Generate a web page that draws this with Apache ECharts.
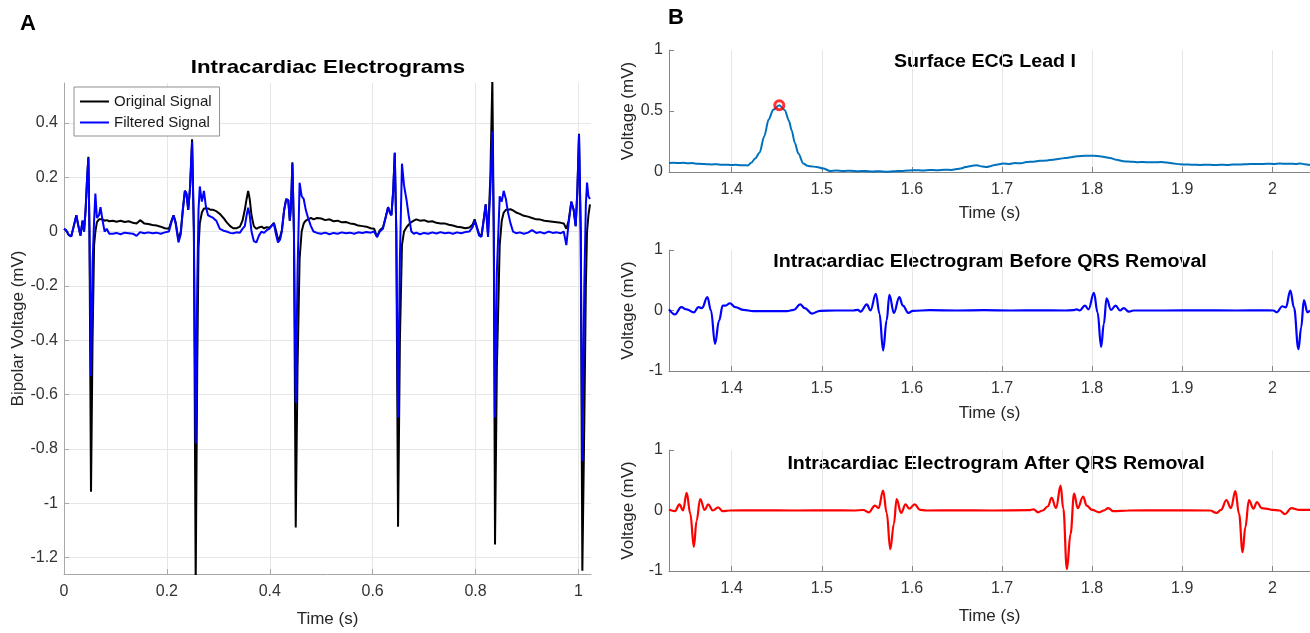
<!DOCTYPE html>
<html><head><meta charset="utf-8">
<script src="https://cdn.jsdelivr.net/npm/echarts@6.0.0/dist/echarts.min.js"></script>
<style>html,body{margin:0;padding:0;background:#fff}#c{width:1310px;height:633px}</style>
</head><body><div id="c"></div>
<script>
// ---------- Panel A: intracardiac electrograms ----------
const leftTime = [
  0.000, 0.004, 0.009, 0.014, 0.019, 0.024, 0.028, 0.032, 0.036, 0.039, 0.042, 0.045, 0.0474, 0.0495, 0.0525, 0.0555, 0.0585, 0.061, 0.064, 0.068, 0.071, 0.075, 0.079, 0.083, 0.088,
  0.095, 0.102, 0.110, 0.118, 0.126, 0.134, 0.141, 0.148, 0.156, 0.164, 0.172, 0.180, 0.188, 0.196, 0.204,
  0.209, 0.213, 0.217, 0.2225, 0.227, 0.231, 0.235, 0.238, 0.2415, 0.245, 0.249, 0.2525, 0.256, 0.259, 0.2615, 0.264, 0.268, 0.272, 0.276, 0.280, 0.285, 0.290,
  0.296, 0.303, 0.310, 0.316, 0.323, 0.329, 0.335, 0.342, 0.347, 0.3515, 0.355, 0.358, 0.361, 0.3645, 0.369, 0.374, 0.379, 0.384, 0.389, 0.394, 0.399, 0.403, 0.408, 0.412, 0.416, 0.420, 0.4235, 0.428, 0.432, 0.436, 0.439, 0.4415, 0.444, 0.447, 0.4505,
  0.454, 0.458, 0.462, 0.466, 0.470, 0.4745, 0.480, 0.485, 0.492, 0.500, 0.508, 0.516, 0.524, 0.532, 0.540, 0.548, 0.556, 0.564, 0.572, 0.580, 0.588, 0.596, 0.603, 0.6085, 0.614, 0.620, 0.625, 0.630, 0.6335, 0.6365, 0.640, 0.643, 0.646, 0.6494,
  0.653, 0.657, 0.661, 0.6656, 0.670, 0.6753, 0.680, 0.685, 0.692, 0.700, 0.708, 0.716, 0.724, 0.732, 0.740, 0.748, 0.756, 0.764, 0.772, 0.780, 0.788, 0.794, 0.7984, 0.803, 0.807, 0.8114, 0.815, 0.8198, 0.8243, 0.8288, 0.8327, 0.8355, 0.8379,
  0.8415, 0.847, 0.851, 0.8548, 0.859, 0.8632, 0.868, 0.8729, 0.879, 0.886, 0.894, 0.902, 0.910, 0.918, 0.926, 0.934, 0.942, 0.950, 0.958, 0.966, 0.9715, 0.9766, 0.981, 0.9863, 0.9908, 0.9947, 0.998, 1.0012, 1.0045, 1.0077,
  1.0115, 1.0145, 1.0168, 1.0195, 1.0225
];
const originalSignal = [
  0.010, 0.005, -0.012, -0.018, 0.020, 0.060, 0.020, -0.015, 0.040, 0.000, 0.080, 0.200, 0.275, 0.000, -0.958, -0.400, -0.050, 0.000, 0.035, 0.045, 0.040, 0.045, 0.040, 0.042, 0.038,
  0.040, 0.036, 0.040, 0.035, 0.038, 0.032, 0.030, 0.042, 0.030, 0.028, 0.024, 0.022, 0.018, 0.012, 0.010,
  0.040, 0.060, 0.035, -0.030, 0.000, 0.080, 0.150, 0.140, 0.080, 0.160, 0.340, 0.000, -1.300, -0.500, -0.060, 0.030, 0.070, 0.085, 0.085, 0.085, 0.080, 0.080,
  0.075, 0.065, 0.050, 0.035, 0.020, 0.012, 0.012, 0.018, 0.040, 0.080, 0.120, 0.150, 0.120, 0.060, 0.020, 0.010, 0.015, 0.018, 0.012, 0.016, 0.014, 0.020, 0.032, 0.005, -0.030, -0.020, 0.005, 0.080, 0.120, 0.115, 0.040, 0.100, 0.255, 0.000, -1.090,
  -0.500, -0.100, 0.000, 0.030, 0.040, 0.045, 0.050, 0.045, 0.050, 0.048, 0.042, 0.045, 0.038, 0.040, 0.034, 0.035, 0.030, 0.028, 0.022, 0.020, 0.018, 0.012, 0.010, -0.020, 0.005, 0.015, 0.050, 0.090, 0.070, 0.060, 0.150, 0.290, 0.000, -1.087,
  -0.400, -0.050, 0.000, 0.015, 0.025, 0.035, 0.040, 0.045, 0.040, 0.042, 0.036, 0.038, 0.032, 0.030, 0.030, 0.025, 0.022, 0.018, 0.016, 0.012, 0.015, 0.025, 0.045, 0.015, -0.010, -0.018, 0.030, 0.100, -0.010, 0.200, 0.560, 0.000, -1.152,
  -0.500, -0.050, 0.040, 0.070, 0.080, 0.080, 0.082, 0.078, 0.070, 0.065, 0.058, 0.055, 0.050, 0.045, 0.044, 0.040, 0.038, 0.036, 0.034, 0.032, 0.030, 0.010, 0.040, 0.110, 0.080, 0.020, 0.150, 0.360, 0.000, -1.249,
  -0.700, -0.200, 0.000, 0.060, 0.100
];
const filteredSignal = [
  0.010, 0.005, -0.012, -0.018, 0.020, 0.060, 0.020, -0.015, 0.040, 0.000, 0.080, 0.200, 0.270, 0.000, -0.533, -0.120, 0.040, 0.140, 0.050, 0.060, 0.090, 0.040, 0.000, 0.010, -0.008,
  -0.008, -0.005, -0.010, -0.004, -0.006, -0.008, -0.016, -0.002, -0.006, -0.003, -0.006, -0.004, -0.008, -0.003, 0.000,
  0.035, 0.060, 0.030, -0.040, -0.010, 0.080, 0.150, 0.140, 0.080, 0.160, 0.330, 0.000, -0.780, -0.200, 0.080, 0.166, 0.110, 0.150, 0.090, 0.060, 0.055, 0.050,
  0.040, 0.010, 0.003, 0.000, -0.005, -0.006, -0.003, -0.004, 0.010, 0.020, 0.060, 0.088, 0.060, 0.000, -0.035, -0.040, -0.015, 0.000, -0.005, 0.005, 0.010, 0.020, 0.030, -0.010, -0.040, -0.030, 0.000, 0.080, 0.120, 0.115, 0.040, 0.100, 0.250, 0.000, -0.630,
  -0.150, 0.180, 0.130, 0.120, 0.080, 0.050, 0.020, 0.000, -0.005, -0.008, -0.004, -0.010, -0.005, -0.008, -0.003, -0.006, -0.004, -0.008, -0.003, -0.005, -0.002, -0.004, 0.000, -0.020, 0.000, 0.010, 0.050, 0.090, 0.070, 0.060, 0.150, 0.290, 0.000, -0.685,
  -0.100, 0.250, 0.170, 0.120, 0.060, 0.000, -0.008, -0.004, -0.010, -0.005, -0.008, -0.003, -0.007, -0.002, -0.006, -0.004, -0.008, -0.003, -0.006, -0.002, 0.000, 0.015, 0.040, 0.010, -0.015, -0.020, 0.030, 0.100, -0.020, 0.150, 0.369, 0.000, -0.685,
  -0.150, 0.130, 0.110, 0.150, 0.120, 0.070, 0.030, 0.000, -0.006, -0.003, -0.008, -0.004, 0.005, -0.005, -0.002, -0.007, 0.000, -0.005, -0.003, -0.006, 0.000, -0.050, 0.030, 0.110, 0.080, 0.020, 0.150, 0.357, 0.000, -0.845,
  -0.200, 0.100, 0.180, 0.130, 0.120
];
const leftXTicks = [0, 0.2, 0.4, 0.6, 0.8, 1];
const leftYTicks = [-1.2, -1, -0.8, -0.6, -0.4, -0.2, 0, 0.2, 0.4];

// ---------- Panel B1: surface ECG lead I ----------
const ecgTime = [
  1.3304, 1.336, 1.341, 1.346, 1.351, 1.356, 1.362, 1.367, 1.372, 1.378, 1.383, 1.389, 1.394, 1.399, 1.404, 1.410, 1.414, 1.418, 1.4215, 1.426, 1.431, 1.436, 1.441, 1.446, 1.4528, 1.459, 1.4635, 1.4665, 1.470, 1.474,
  1.4795, 1.484, 1.487, 1.4944, 1.5018, 1.509, 1.516, 1.524, 1.532, 1.540, 1.548, 1.556, 1.564, 1.572, 1.580, 1.588, 1.596, 1.604, 1.612, 1.620, 1.628, 1.636, 1.644, 1.650, 1.655, 1.659, 1.666, 1.672, 1.678, 1.683,
  1.688, 1.692, 1.7015, 1.708, 1.714, 1.721, 1.7274, 1.735, 1.742, 1.750, 1.757, 1.764, 1.770, 1.776, 1.7829, 1.7925, 1.8014, 1.810, 1.8199, 1.827, 1.8347, 1.840, 1.845, 1.851, 1.857, 1.863, 1.870, 1.876, 1.8828, 1.890,
  1.8976, 1.904, 1.910, 1.920, 1.928, 1.935, 1.942, 1.9494, 1.957, 1.965, 1.972, 1.979, 1.986, 1.994, 2.001, 2.0086, 2.015, 2.020, 2.026, 2.0308, 2.036, 2.0418
];
const ecgVoltage = [
  0.074, 0.076, 0.073, 0.075, 0.071, 0.073, 0.068, 0.066, 0.064, 0.062, 0.064, 0.059, 0.060, 0.057, 0.059, 0.055, 0.056, 0.054, 0.075, 0.110, 0.160, 0.290, 0.430, 0.510, 0.548, 0.507, 0.420, 0.343, 0.240, 0.151,
  0.069, 0.052, 0.047, 0.041, 0.028, 0.009, 0.012, 0.008, 0.011, 0.006, 0.009, 0.004, 0.007, 0.003, 0.006, 0.009, 0.012, 0.015, 0.012, 0.017, 0.014, 0.019, 0.017, 0.024, 0.030, 0.040, 0.050, 0.055, 0.046, 0.041,
  0.050, 0.058, 0.069, 0.066, 0.074, 0.071, 0.082, 0.085, 0.092, 0.094, 0.101, 0.108, 0.115, 0.120, 0.129, 0.133, 0.134, 0.127, 0.115, 0.100, 0.088, 0.086, 0.084, 0.080, 0.082, 0.079, 0.080, 0.081, 0.077, 0.070,
  0.063, 0.061, 0.060, 0.058, 0.060, 0.057, 0.059, 0.058, 0.061, 0.062, 0.064, 0.066, 0.065, 0.068, 0.066, 0.069, 0.067, 0.068, 0.066, 0.069, 0.064, 0.058
];
const ecgPeakTime = [1.4528];
const ecgPeakVoltage = [0.548];

// ---------- Panel B2: electrogram before QRS removal ----------
const beforeTime = [
  1.3304, 1.337, 1.344, 1.350, 1.358, 1.363, 1.367, 1.373, 1.377, 1.3815, 1.386, 1.390, 1.393, 1.398, 1.404, 1.413, 1.424, 1.440, 1.461, 1.469,
  1.476, 1.481, 1.489, 1.498, 1.515, 1.535, 1.540, 1.543, 1.550, 1.554, 1.560, 1.564, 1.568, 1.572, 1.575, 1.580, 1.586, 1.590, 1.596, 1.601,
  1.620, 1.650, 1.680, 1.710, 1.740, 1.770, 1.779, 1.783, 1.786, 1.792, 1.796, 1.802, 1.806, 1.810, 1.813, 1.816, 1.821, 1.826, 1.831, 1.835,
  1.841, 1.846, 1.880, 1.920, 1.960, 1.990, 2.001, 2.005, 2.011, 2.015, 2.020, 2.024, 2.029, 2.032, 2.035, 2.039, 2.0418
];
const beforeVoltage = [
  0.017, -0.066, 0.055, 0.017, -0.030, 0.055, 0.040, 0.220, 0.000, -0.550, -0.166, 0.080, 0.080, 0.120, 0.055, 0.010, -0.010, -0.008, -0.010, 0.010,
  0.100, 0.040, -0.050, -0.005, 0.000, 0.000, 0.010, -0.020, 0.100, 0.000, 0.276, -0.050, -0.660, -0.160, 0.260, -0.040, 0.220, 0.080, -0.040, -0.005,
  0.005, 0.000, 0.005, 0.000, 0.002, 0.000, 0.005, 0.020, 0.000, 0.080, 0.020, 0.290, -0.030, -0.600, -0.220, 0.200, 0.010, 0.080, 0.000, 0.040,
  -0.020, 0.000, 0.000, 0.003, 0.000, 0.002, 0.000, -0.030, 0.070, 0.050, 0.330, 0.050, -0.640, -0.280, 0.170, -0.030, 0.000
];

// ---------- Panel B3: electrogram after QRS removal ----------
const afterTime = [
  1.3304, 1.337, 1.342, 1.346, 1.350, 1.354, 1.358, 1.361, 1.365, 1.370, 1.374, 1.379, 1.385, 1.390, 1.397, 1.430, 1.470, 1.510, 1.535, 1.546,
  1.552, 1.559, 1.563, 1.568, 1.572, 1.576, 1.580, 1.583, 1.588, 1.593, 1.597, 1.603, 1.609, 1.616, 1.650, 1.690, 1.730, 1.735, 1.740, 1.745,
  1.751, 1.755, 1.760, 1.765, 1.768, 1.772, 1.776, 1.780, 1.784, 1.790, 1.794, 1.800, 1.808, 1.813, 1.818, 1.823, 1.840, 1.880, 1.931, 1.938,
  1.943, 1.949, 1.954, 1.959, 1.963, 1.967, 1.970, 1.974, 1.979, 1.983, 1.988, 1.993, 2.000, 2.008, 2.014, 2.021, 2.030, 2.0418
];
const afterVoltage = [
  0.017, -0.010, 0.100, 0.000, 0.290, -0.050, -0.600, -0.170, 0.190, 0.010, 0.100, 0.000, 0.050, -0.010, 0.000, 0.002, 0.000, 0.002, 0.000, 0.008,
  -0.030, 0.080, 0.040, 0.330, -0.040, -0.640, -0.220, 0.190, -0.040, 0.100, 0.030, 0.100, 0.010, 0.000, 0.002, 0.000, 0.005, 0.020, -0.030, 0.000,
  0.070, 0.210, 0.040, 0.410, 0.030, -0.970, -0.390, 0.280, 0.040, 0.230, 0.080, 0.010, -0.030, 0.000, 0.040, -0.010, 0.000, 0.003, 0.000, -0.040,
  0.010, 0.170, 0.040, 0.320, -0.050, -0.690, -0.280, 0.170, 0.030, 0.140, 0.040, 0.030, 0.010, 0.000, -0.060, 0.040, 0.010, 0.010
];
const rightXTicks = [1.4, 1.5, 1.6, 1.7, 1.8, 1.9, 2];
const ecgYTicks = [0, 0.5, 1];
const egmYTicks = [-1, 0, 1];

// ---------- chart ----------
const FONT = '"Liberation Sans", Arial, Helvetica, sans-serif';
const zip = (t, v) => t.map((x, i) => [x, v[i]]);
const LEFT_AXIS = '#a8a8a8';
const RIGHT_AXIS = '#858585';
const GRID_COLOR = '#e6e6e6';
const LABEL_COLOR = '#333333';

function xAxis(grid, min, max, ticks, gap, axisColor) {
  return {
    gridIndex: grid, type: 'value', min: min, max: max,
    axisLine: {show: true, onZero: false, lineStyle: {color: axisColor, width: 1}},
    axisTick: {show: true, inside: true, length: 5, customValues: ticks, lineStyle: {color: axisColor}},
    axisLabel: {customValues: ticks, margin: 10, fontSize: 16, color: LABEL_COLOR, fontFamily: FONT},
    splitLine: {show: true, lineStyle: {color: GRID_COLOR, width: 1}},
    name: 'Time (s)', nameLocation: 'middle', nameGap: gap,
    nameTextStyle: {fontSize: 17, color: '#262626', fontFamily: FONT}
  };
}
function yAxis(grid, min, max, ticks, name, gap, axisColor, showGrid) {
  return {
    gridIndex: grid, type: 'value', min: min, max: max,
    axisLine: {show: true, onZero: false, lineStyle: {color: axisColor, width: 1}},
    axisTick: {show: true, inside: true, length: 5, customValues: ticks, lineStyle: {color: axisColor}},
    axisLabel: {customValues: ticks, margin: 6, fontSize: 16, color: LABEL_COLOR, fontFamily: FONT},
    splitLine: {show: showGrid, lineStyle: {color: GRID_COLOR, width: 1}},
    name: name, nameLocation: 'middle', nameGap: gap,
    nameTextStyle: {fontSize: 17, color: '#262626', fontFamily: FONT}
  };
}
function titleText(txt, cx, top, size, sx) {
  return {
    type: 'text', x: cx, y: top, scaleX: sx, originX: 0, originY: 0,
    style: {text: txt, fontSize: size, fontWeight: 'bold', fontFamily: FONT, fill: '#000',
            align: 'center', verticalAlign: 'top', textAlign: 'center', textVerticalAlign: 'top'}
  };
}

const chart = echarts.init(document.getElementById('c'), null, {renderer: 'canvas'});
chart.setOption({
  animation: false,
  backgroundColor: '#ffffff',
  textStyle: {fontFamily: FONT},
  grid: [
    {left: 64, top: 83, width: 527, height: 497},
    {left: 669, top: 50, width: 641, height: 122},
    {left: 669, top: 250, width: 641, height: 121},
    {left: 669, top: 450, width: 641, height: 121}
  ],
  xAxis: [
    xAxis(0, 0, 1.0245, leftXTicks, 37, LEFT_AXIS),
    xAxis(1, 1.3304, 2.0418, rightXTicks, 33, RIGHT_AXIS),
    xAxis(2, 1.3304, 2.0418, rightXTicks, 34, RIGHT_AXIS),
    xAxis(3, 1.3304, 2.0418, rightXTicks, 37, RIGHT_AXIS)
  ],
  yAxis: [
    yAxis(0, -1.261, 0.547, leftYTicks, 'Bipolar Voltage (mV)', 35, LEFT_AXIS, true),
    yAxis(1, 0, 1, ecgYTicks, 'Voltage (mV)', 32, RIGHT_AXIS, false),
    yAxis(2, -1, 1, egmYTicks, 'Voltage (mV)', 32, RIGHT_AXIS, false),
    yAxis(3, -1, 1, egmYTicks, 'Voltage (mV)', 32, RIGHT_AXIS, false)
  ],
  legend: {
    data: ['Original Signal', 'Filtered Signal'],
    orient: 'vertical', left: 74, top: 87,
    padding: [7, 8, 6, 5], itemGap: 6, itemWidth: 29, itemHeight: 14,
    backgroundColor: '#ffffff', borderColor: '#8f8f8f', borderWidth: 1, borderRadius: 0,
    itemStyle: {opacity: 0, color: 'rgba(0,0,0,0)', borderWidth: 0},
    textStyle: {fontSize: 15, color: '#1a1a1a', fontFamily: FONT}
  },
  graphic: [
    titleText('A', 28, 13, 22, 1),
    titleText('Intracardiac Electrograms', 328, 58, 19, 1.17),
    titleText('B', 676, 7, 22, 1),
    titleText('Surface ECG Lead I', 985, 53, 17.5, 1.12),
    titleText('Intracardiac Electrogram Before QRS Removal', 990, 253, 17.5, 1.12),
    titleText('Intracardiac Electrogram After QRS Removal', 996, 455, 17.5, 1.12)
  ],
  series: [
    {name: 'Original Signal', type: 'line', xAxisIndex: 0, yAxisIndex: 0, data: zip(leftTime, originalSignal),
     symbol: 'none', lineStyle: {color: '#000000', width: 2}, itemStyle: {color: '#000000'}},
    {name: 'Filtered Signal', type: 'line', xAxisIndex: 0, yAxisIndex: 0, data: zip(leftTime, filteredSignal),
     symbol: 'none', lineStyle: {color: '#0000ff', width: 2}, itemStyle: {color: '#0000ff'}},
    {name: 'Surface ECG', type: 'line', xAxisIndex: 1, yAxisIndex: 1, data: zip(ecgTime, ecgVoltage),
     symbol: 'none', smooth: 0.3, smoothMonotone: 'x', lineStyle: {color: '#0072bd', width: 2}},
    {name: 'R peak', type: 'scatter', xAxisIndex: 1, yAxisIndex: 1, data: zip(ecgPeakTime, ecgPeakVoltage),
     symbol: 'circle', symbolSize: 9, itemStyle: {color: 'rgba(255,255,255,0)', borderColor: '#ff0000', borderWidth: 3}, z: 5},
    {name: 'Before QRS Removal', type: 'line', xAxisIndex: 2, yAxisIndex: 2, data: zip(beforeTime, beforeVoltage),
     symbol: 'none', smooth: 0.4, smoothMonotone: 'x', lineStyle: {color: '#0000ff', width: 2.2}},
    {name: 'After QRS Removal', type: 'line', xAxisIndex: 3, yAxisIndex: 3, data: zip(afterTime, afterVoltage),
     symbol: 'none', smooth: 0.4, smoothMonotone: 'x', lineStyle: {color: '#ff0000', width: 2.2}}
  ]
});
</script></body></html>
